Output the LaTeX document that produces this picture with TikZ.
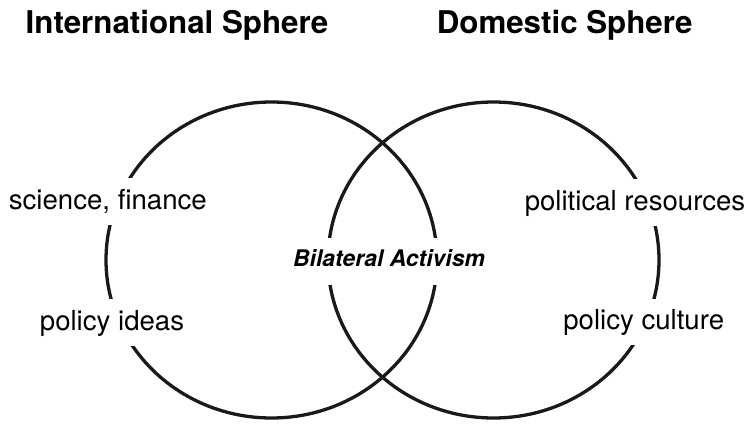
\documentclass[tikz,border=0pt]{standalone}
\usepackage{fontspec}
\setmainfont{TeX Gyre Heros}
\usepackage{tikz}
\usepackage{tkz-euclide}
\usetikzlibrary{calc}

\begin{document}
\begin{tikzpicture}[x=1pt,y=-1pt,
    sphere/.style={line width=3.3pt,black!90},
    title/.style={anchor=base,font=\bfseries\fontsize{31.3}{34}\selectfont},
    side/.style={anchor=base,fill=white,inner xsep=4pt,inner ysep=0pt,
      text height=31pt,text depth=15.5pt,font=\fontsize{27.6}{30}\selectfont},
    middle/.style={anchor=base,fill=white,inner xsep=4pt,inner ysep=0pt,
      text height=28pt,text depth=19pt,font=\bfseries\itshape\fontsize{22.9}{26}\selectfont}]
    \useasboundingbox (0,0) rectangle (751,423);
    \tkzDefPoint(271.5,260){c_1}
    \tkzDefPoint(493.5,260){c_2}
    \draw[sphere] (c_1) ellipse [x radius=165.5,y radius=158];
    \draw[sphere] (c_2) ellipse [x radius=165.5,y radius=158];
    \node[title] (intl) at (177,33) {International Sphere};
    \node[title] (dom) at (564.7,33) {Domestic Sphere};
    \node[side] (sci) at (107.8,209) {science, finance};
    \node[side] (ideas) at (112,330) {policy ideas};
    \node[side] (pol) at (635,210) {political resources};
    \node[side] (cult) at (643.7,329.5) {policy culture};
    \node[middle] (bil) at (389,266) {Bilateral Activism};
    \end{tikzpicture}
\end{document}
